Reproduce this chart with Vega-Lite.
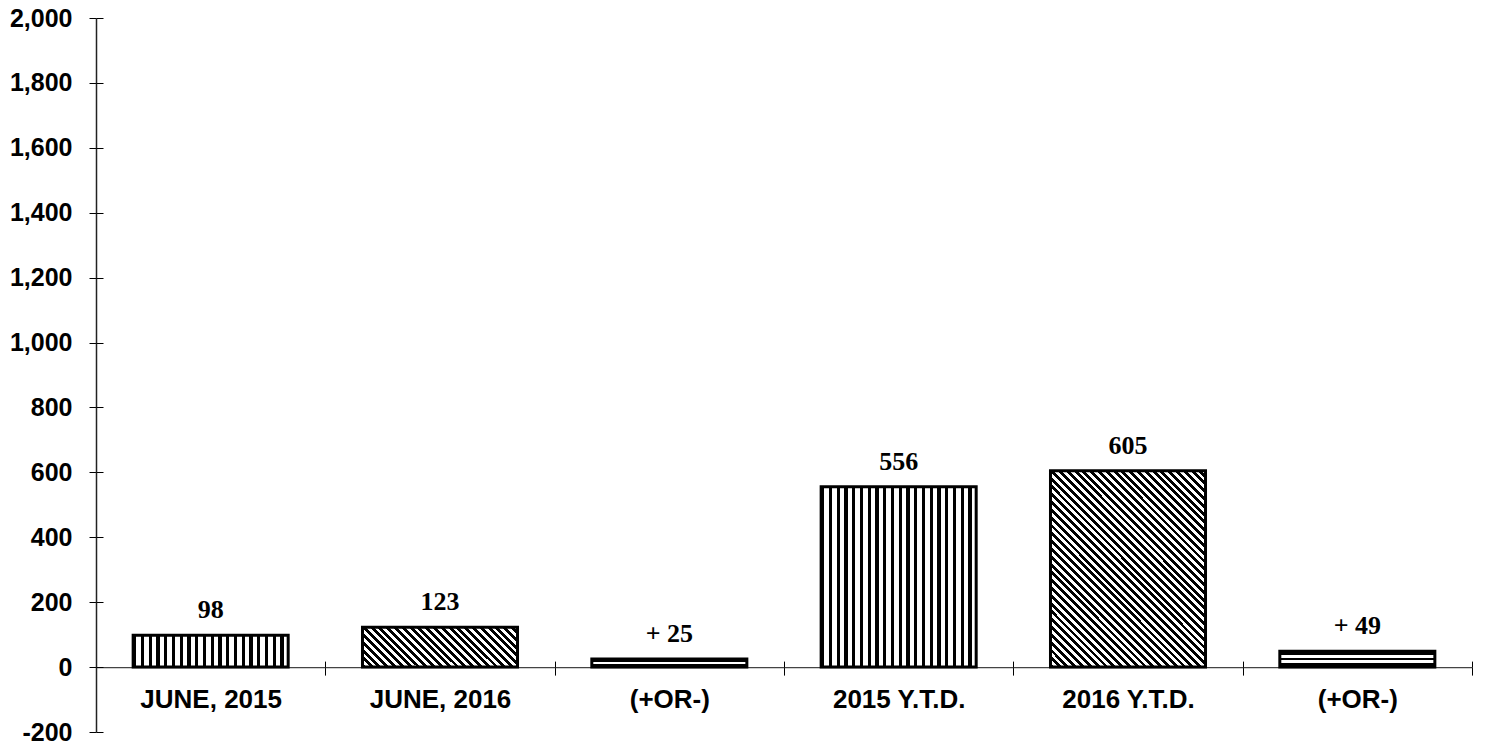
{
  "$schema": "https://vega.github.io/schema/vega-lite/v6.json",
  "autosize": "none",
  "width": 1376,
  "height": 714,
  "padding": {"left": 96, "top": 18, "right": 13, "bottom": 16},
  "background": "white",
  "config": {"view": {"stroke": null}},
  "data": {
    "values": [
      {"key": "JUNE, 2015", "value": 98, "label": "98"},
      {"key": "JUNE, 2016", "value": 123, "label": "123"},
      {"key": "(+OR-)|month", "value": 25, "label": "+ 25"},
      {"key": "2015 Y.T.D.", "value": 556, "label": "556"},
      {"key": "2016 Y.T.D.", "value": 605, "label": "605"},
      {"key": "(+OR-)|ytd", "value": 49, "label": "+ 49"}
    ]
  },
  "resolve": {"axis": {"x": "independent", "y": "independent"}},
  "layer": [
    {
      "mark": {"type": "bar", "width": {"band": 0.676}, "stroke": "black", "strokeWidth": 3},
      "encoding": {
        "x": {
          "field": "key", "type": "nominal", "sort": null,
          "scale": {"paddingInner": 0, "paddingOuter": 0},
          "axis": {
            "orient": "bottom", "offset": -64.9, "title": null, "tickBand": "extent",
            "tickSize": 8, "tickColor": "black", "tickWidth": 1,
            "domainColor": "#444", "domainWidth": 1.2,
            "labelExpr": "split(datum.label, '|')[0]", "labelAngle": 0,
            "labelFont": "Liberation Sans", "labelFontWeight": "bold", "labelFontSize": 26,
            "labelColor": "black", "labelPadding": 11
          }
        },
        "y": {
          "field": "value", "type": "quantitative",
          "scale": {"domain": [-200, 2000], "nice": false},
          "axis": {
            "orient": "left", "title": null, "grid": false,
            "values": [-200, 0, 200, 400, 600, 800, 1000, 1200, 1400, 1600, 1800, 2000],
            "format": ",.0f", "labelExpr": "replace(datum.label, '\u2212', '-')",
            "tickSize": 7, "tickColor": "black", "tickWidth": 1,
            "domainColor": "#222", "domainWidth": 1.5,
            "labelFont": "Liberation Sans", "labelFontWeight": "bold", "labelFontSize": 25,
            "labelColor": "black", "labelPadding": 17
          }
        },
        "fill": {
          "condition": [
            {"test": "datum.key === 'JUNE, 2016'", "value": {"gradient": "linear", "x1": 0, "y1": 1, "x2": 1.1795, "y2": 0.6956, "stops": [
              {"offset": 0, "color": "#000"}, {"offset": 0.02, "color": "#000"}, {"offset": 0.02, "color": "#fff"}, {"offset": 0.04, "color": "#fff"},
              {"offset": 0.04, "color": "#000"}, {"offset": 0.06, "color": "#000"}, {"offset": 0.06, "color": "#fff"}, {"offset": 0.08, "color": "#fff"},
              {"offset": 0.08, "color": "#000"}, {"offset": 0.10, "color": "#000"}, {"offset": 0.10, "color": "#fff"}, {"offset": 0.12, "color": "#fff"},
              {"offset": 0.12, "color": "#000"}, {"offset": 0.14, "color": "#000"}, {"offset": 0.14, "color": "#fff"}, {"offset": 0.16, "color": "#fff"},
              {"offset": 0.16, "color": "#000"}, {"offset": 0.18, "color": "#000"}, {"offset": 0.18, "color": "#fff"}, {"offset": 0.20, "color": "#fff"},
              {"offset": 0.20, "color": "#000"}, {"offset": 0.22, "color": "#000"}, {"offset": 0.22, "color": "#fff"}, {"offset": 0.24, "color": "#fff"},
              {"offset": 0.24, "color": "#000"}, {"offset": 0.26, "color": "#000"}, {"offset": 0.26, "color": "#fff"}, {"offset": 0.28, "color": "#fff"},
              {"offset": 0.28, "color": "#000"}, {"offset": 0.30, "color": "#000"}, {"offset": 0.30, "color": "#fff"}, {"offset": 0.32, "color": "#fff"},
              {"offset": 0.32, "color": "#000"}, {"offset": 0.34, "color": "#000"}, {"offset": 0.34, "color": "#fff"}, {"offset": 0.36, "color": "#fff"},
              {"offset": 0.36, "color": "#000"}, {"offset": 0.38, "color": "#000"}, {"offset": 0.38, "color": "#fff"}, {"offset": 0.40, "color": "#fff"},
              {"offset": 0.40, "color": "#000"}, {"offset": 0.42, "color": "#000"}, {"offset": 0.42, "color": "#fff"}, {"offset": 0.44, "color": "#fff"},
              {"offset": 0.44, "color": "#000"}, {"offset": 0.46, "color": "#000"}, {"offset": 0.46, "color": "#fff"}, {"offset": 0.48, "color": "#fff"},
              {"offset": 0.48, "color": "#000"}, {"offset": 0.50, "color": "#000"}, {"offset": 0.50, "color": "#fff"}, {"offset": 0.52, "color": "#fff"},
              {"offset": 0.52, "color": "#000"}, {"offset": 0.54, "color": "#000"}, {"offset": 0.54, "color": "#fff"}, {"offset": 0.56, "color": "#fff"},
              {"offset": 0.56, "color": "#000"}, {"offset": 0.58, "color": "#000"}, {"offset": 0.58, "color": "#fff"}, {"offset": 0.60, "color": "#fff"},
              {"offset": 0.60, "color": "#000"}, {"offset": 0.62, "color": "#000"}, {"offset": 0.62, "color": "#fff"}, {"offset": 0.64, "color": "#fff"},
              {"offset": 0.64, "color": "#000"}, {"offset": 0.66, "color": "#000"}, {"offset": 0.66, "color": "#fff"}, {"offset": 0.68, "color": "#fff"},
              {"offset": 0.68, "color": "#000"}, {"offset": 0.70, "color": "#000"}, {"offset": 0.70, "color": "#fff"}, {"offset": 0.72, "color": "#fff"},
              {"offset": 0.72, "color": "#000"}, {"offset": 0.74, "color": "#000"}, {"offset": 0.74, "color": "#fff"}, {"offset": 0.76, "color": "#fff"},
              {"offset": 0.76, "color": "#000"}, {"offset": 0.78, "color": "#000"}, {"offset": 0.78, "color": "#fff"}, {"offset": 0.80, "color": "#fff"},
              {"offset": 0.80, "color": "#000"}, {"offset": 0.82, "color": "#000"}, {"offset": 0.82, "color": "#fff"}, {"offset": 0.84, "color": "#fff"},
              {"offset": 0.84, "color": "#000"}, {"offset": 0.86, "color": "#000"}, {"offset": 0.86, "color": "#fff"}, {"offset": 0.88, "color": "#fff"},
              {"offset": 0.88, "color": "#000"}, {"offset": 0.90, "color": "#000"}, {"offset": 0.90, "color": "#fff"}, {"offset": 0.92, "color": "#fff"},
              {"offset": 0.92, "color": "#000"}, {"offset": 0.94, "color": "#000"}, {"offset": 0.94, "color": "#fff"}, {"offset": 0.96, "color": "#fff"},
              {"offset": 0.96, "color": "#000"}, {"offset": 0.98, "color": "#000"}, {"offset": 0.98, "color": "#fff"}, {"offset": 1, "color": "#fff"}
            ]}},
            {"test": "datum.key === '2016 Y.T.D.'", "value": {"gradient": "linear", "x1": 0, "y1": 1, "x2": 0.8713, "y2": -0.1018, "stops": [
              {"offset": 0, "color": "#000"}, {"offset": 0.0111, "color": "#000"}, {"offset": 0.0111, "color": "#fff"}, {"offset": 0.0222, "color": "#fff"},
              {"offset": 0.0222, "color": "#000"}, {"offset": 0.0333, "color": "#000"}, {"offset": 0.0333, "color": "#fff"}, {"offset": 0.0444, "color": "#fff"},
              {"offset": 0.0444, "color": "#000"}, {"offset": 0.0556, "color": "#000"}, {"offset": 0.0556, "color": "#fff"}, {"offset": 0.0667, "color": "#fff"},
              {"offset": 0.0667, "color": "#000"}, {"offset": 0.0778, "color": "#000"}, {"offset": 0.0778, "color": "#fff"}, {"offset": 0.0889, "color": "#fff"},
              {"offset": 0.0889, "color": "#000"}, {"offset": 0.1, "color": "#000"}, {"offset": 0.1, "color": "#fff"}, {"offset": 0.1111, "color": "#fff"},
              {"offset": 0.1111, "color": "#000"}, {"offset": 0.1222, "color": "#000"}, {"offset": 0.1222, "color": "#fff"}, {"offset": 0.1333, "color": "#fff"},
              {"offset": 0.1333, "color": "#000"}, {"offset": 0.1444, "color": "#000"}, {"offset": 0.1444, "color": "#fff"}, {"offset": 0.1556, "color": "#fff"},
              {"offset": 0.1556, "color": "#000"}, {"offset": 0.1667, "color": "#000"}, {"offset": 0.1667, "color": "#fff"}, {"offset": 0.1778, "color": "#fff"},
              {"offset": 0.1778, "color": "#000"}, {"offset": 0.1889, "color": "#000"}, {"offset": 0.1889, "color": "#fff"}, {"offset": 0.2, "color": "#fff"},
              {"offset": 0.2, "color": "#000"}, {"offset": 0.2111, "color": "#000"}, {"offset": 0.2111, "color": "#fff"}, {"offset": 0.2222, "color": "#fff"},
              {"offset": 0.2222, "color": "#000"}, {"offset": 0.2333, "color": "#000"}, {"offset": 0.2333, "color": "#fff"}, {"offset": 0.2444, "color": "#fff"},
              {"offset": 0.2444, "color": "#000"}, {"offset": 0.2556, "color": "#000"}, {"offset": 0.2556, "color": "#fff"}, {"offset": 0.2667, "color": "#fff"},
              {"offset": 0.2667, "color": "#000"}, {"offset": 0.2778, "color": "#000"}, {"offset": 0.2778, "color": "#fff"}, {"offset": 0.2889, "color": "#fff"},
              {"offset": 0.2889, "color": "#000"}, {"offset": 0.3, "color": "#000"}, {"offset": 0.3, "color": "#fff"}, {"offset": 0.3111, "color": "#fff"},
              {"offset": 0.3111, "color": "#000"}, {"offset": 0.3222, "color": "#000"}, {"offset": 0.3222, "color": "#fff"}, {"offset": 0.3333, "color": "#fff"},
              {"offset": 0.3333, "color": "#000"}, {"offset": 0.3444, "color": "#000"}, {"offset": 0.3444, "color": "#fff"}, {"offset": 0.3556, "color": "#fff"},
              {"offset": 0.3556, "color": "#000"}, {"offset": 0.3667, "color": "#000"}, {"offset": 0.3667, "color": "#fff"}, {"offset": 0.3778, "color": "#fff"},
              {"offset": 0.3778, "color": "#000"}, {"offset": 0.3889, "color": "#000"}, {"offset": 0.3889, "color": "#fff"}, {"offset": 0.4, "color": "#fff"},
              {"offset": 0.4, "color": "#000"}, {"offset": 0.4111, "color": "#000"}, {"offset": 0.4111, "color": "#fff"}, {"offset": 0.4222, "color": "#fff"},
              {"offset": 0.4222, "color": "#000"}, {"offset": 0.4333, "color": "#000"}, {"offset": 0.4333, "color": "#fff"}, {"offset": 0.4444, "color": "#fff"},
              {"offset": 0.4444, "color": "#000"}, {"offset": 0.4556, "color": "#000"}, {"offset": 0.4556, "color": "#fff"}, {"offset": 0.4667, "color": "#fff"},
              {"offset": 0.4667, "color": "#000"}, {"offset": 0.4778, "color": "#000"}, {"offset": 0.4778, "color": "#fff"}, {"offset": 0.4889, "color": "#fff"},
              {"offset": 0.4889, "color": "#000"}, {"offset": 0.5, "color": "#000"}, {"offset": 0.5, "color": "#fff"}, {"offset": 0.5111, "color": "#fff"},
              {"offset": 0.5111, "color": "#000"}, {"offset": 0.5222, "color": "#000"}, {"offset": 0.5222, "color": "#fff"}, {"offset": 0.5333, "color": "#fff"},
              {"offset": 0.5333, "color": "#000"}, {"offset": 0.5444, "color": "#000"}, {"offset": 0.5444, "color": "#fff"}, {"offset": 0.5556, "color": "#fff"},
              {"offset": 0.5556, "color": "#000"}, {"offset": 0.5667, "color": "#000"}, {"offset": 0.5667, "color": "#fff"}, {"offset": 0.5778, "color": "#fff"},
              {"offset": 0.5778, "color": "#000"}, {"offset": 0.5889, "color": "#000"}, {"offset": 0.5889, "color": "#fff"}, {"offset": 0.6, "color": "#fff"},
              {"offset": 0.6, "color": "#000"}, {"offset": 0.6111, "color": "#000"}, {"offset": 0.6111, "color": "#fff"}, {"offset": 0.6222, "color": "#fff"},
              {"offset": 0.6222, "color": "#000"}, {"offset": 0.6333, "color": "#000"}, {"offset": 0.6333, "color": "#fff"}, {"offset": 0.6444, "color": "#fff"},
              {"offset": 0.6444, "color": "#000"}, {"offset": 0.6556, "color": "#000"}, {"offset": 0.6556, "color": "#fff"}, {"offset": 0.6667, "color": "#fff"},
              {"offset": 0.6667, "color": "#000"}, {"offset": 0.6778, "color": "#000"}, {"offset": 0.6778, "color": "#fff"}, {"offset": 0.6889, "color": "#fff"},
              {"offset": 0.6889, "color": "#000"}, {"offset": 0.7, "color": "#000"}, {"offset": 0.7, "color": "#fff"}, {"offset": 0.7111, "color": "#fff"},
              {"offset": 0.7111, "color": "#000"}, {"offset": 0.7222, "color": "#000"}, {"offset": 0.7222, "color": "#fff"}, {"offset": 0.7333, "color": "#fff"},
              {"offset": 0.7333, "color": "#000"}, {"offset": 0.7444, "color": "#000"}, {"offset": 0.7444, "color": "#fff"}, {"offset": 0.7556, "color": "#fff"},
              {"offset": 0.7556, "color": "#000"}, {"offset": 0.7667, "color": "#000"}, {"offset": 0.7667, "color": "#fff"}, {"offset": 0.7778, "color": "#fff"},
              {"offset": 0.7778, "color": "#000"}, {"offset": 0.7889, "color": "#000"}, {"offset": 0.7889, "color": "#fff"}, {"offset": 0.8, "color": "#fff"},
              {"offset": 0.8, "color": "#000"}, {"offset": 0.8111, "color": "#000"}, {"offset": 0.8111, "color": "#fff"}, {"offset": 0.8222, "color": "#fff"},
              {"offset": 0.8222, "color": "#000"}, {"offset": 0.8333, "color": "#000"}, {"offset": 0.8333, "color": "#fff"}, {"offset": 0.8444, "color": "#fff"},
              {"offset": 0.8444, "color": "#000"}, {"offset": 0.8556, "color": "#000"}, {"offset": 0.8556, "color": "#fff"}, {"offset": 0.8667, "color": "#fff"},
              {"offset": 0.8667, "color": "#000"}, {"offset": 0.8778, "color": "#000"}, {"offset": 0.8778, "color": "#fff"}, {"offset": 0.8889, "color": "#fff"},
              {"offset": 0.8889, "color": "#000"}, {"offset": 0.9, "color": "#000"}, {"offset": 0.9, "color": "#fff"}, {"offset": 0.9111, "color": "#fff"},
              {"offset": 0.9111, "color": "#000"}, {"offset": 0.9222, "color": "#000"}, {"offset": 0.9222, "color": "#fff"}, {"offset": 0.9333, "color": "#fff"},
              {"offset": 0.9333, "color": "#000"}, {"offset": 0.9444, "color": "#000"}, {"offset": 0.9444, "color": "#fff"}, {"offset": 0.9556, "color": "#fff"},
              {"offset": 0.9556, "color": "#000"}, {"offset": 0.9667, "color": "#000"}, {"offset": 0.9667, "color": "#fff"}, {"offset": 0.9778, "color": "#fff"},
              {"offset": 0.9778, "color": "#000"}, {"offset": 0.9889, "color": "#000"}, {"offset": 0.9889, "color": "#fff"}, {"offset": 1, "color": "#fff"}
            ]}},
            {"test": "datum.key === '(+OR-)|month'", "value": {"gradient": "linear", "x1": 0, "y1": 0, "x2": 0, "y2": 1, "stops": [
              {"offset": 0, "color": "#000"}, {"offset": 0.33, "color": "#000"}, {"offset": 0.33, "color": "#fff"},
              {"offset": 0.67, "color": "#fff"}, {"offset": 0.67, "color": "#000"}, {"offset": 1, "color": "#000"}
            ]}},
            {"test": "datum.key === '(+OR-)|ytd'", "value": {"gradient": "linear", "x1": 0, "y1": 0, "x2": 0, "y2": 1, "stops": [
              {"offset": 0, "color": "#000"}, {"offset": 0.27, "color": "#000"}, {"offset": 0.27, "color": "#fff"},
              {"offset": 0.43, "color": "#fff"}, {"offset": 0.43, "color": "#000"}, {"offset": 0.57, "color": "#000"},
              {"offset": 0.57, "color": "#fff"}, {"offset": 0.73, "color": "#fff"}, {"offset": 0.73, "color": "#000"}, {"offset": 1, "color": "#000"}
            ]}}
          ],
          "value": {"gradient": "linear", "x1": 0, "y1": 0, "x2": 1, "y2": 0, "stops": [
            {"offset": 0, "color": "#000"}, {"offset": 0.02, "color": "#000"}, {"offset": 0.02, "color": "#fff"}, {"offset": 0.05, "color": "#fff"},
            {"offset": 0.05, "color": "#000"}, {"offset": 0.07, "color": "#000"}, {"offset": 0.07, "color": "#fff"}, {"offset": 0.10, "color": "#fff"},
            {"offset": 0.10, "color": "#000"}, {"offset": 0.12, "color": "#000"}, {"offset": 0.12, "color": "#fff"}, {"offset": 0.15, "color": "#fff"},
            {"offset": 0.15, "color": "#000"}, {"offset": 0.17, "color": "#000"}, {"offset": 0.17, "color": "#fff"}, {"offset": 0.20, "color": "#fff"},
            {"offset": 0.20, "color": "#000"}, {"offset": 0.22, "color": "#000"}, {"offset": 0.22, "color": "#fff"}, {"offset": 0.25, "color": "#fff"},
            {"offset": 0.25, "color": "#000"}, {"offset": 0.27, "color": "#000"}, {"offset": 0.27, "color": "#fff"}, {"offset": 0.30, "color": "#fff"},
            {"offset": 0.30, "color": "#000"}, {"offset": 0.32, "color": "#000"}, {"offset": 0.32, "color": "#fff"}, {"offset": 0.35, "color": "#fff"},
            {"offset": 0.35, "color": "#000"}, {"offset": 0.37, "color": "#000"}, {"offset": 0.37, "color": "#fff"}, {"offset": 0.40, "color": "#fff"},
            {"offset": 0.40, "color": "#000"}, {"offset": 0.42, "color": "#000"}, {"offset": 0.42, "color": "#fff"}, {"offset": 0.45, "color": "#fff"},
            {"offset": 0.45, "color": "#000"}, {"offset": 0.47, "color": "#000"}, {"offset": 0.47, "color": "#fff"}, {"offset": 0.50, "color": "#fff"},
            {"offset": 0.50, "color": "#000"}, {"offset": 0.52, "color": "#000"}, {"offset": 0.52, "color": "#fff"}, {"offset": 0.55, "color": "#fff"},
            {"offset": 0.55, "color": "#000"}, {"offset": 0.57, "color": "#000"}, {"offset": 0.57, "color": "#fff"}, {"offset": 0.60, "color": "#fff"},
            {"offset": 0.60, "color": "#000"}, {"offset": 0.62, "color": "#000"}, {"offset": 0.62, "color": "#fff"}, {"offset": 0.65, "color": "#fff"},
            {"offset": 0.65, "color": "#000"}, {"offset": 0.67, "color": "#000"}, {"offset": 0.67, "color": "#fff"}, {"offset": 0.70, "color": "#fff"},
            {"offset": 0.70, "color": "#000"}, {"offset": 0.72, "color": "#000"}, {"offset": 0.72, "color": "#fff"}, {"offset": 0.75, "color": "#fff"},
            {"offset": 0.75, "color": "#000"}, {"offset": 0.77, "color": "#000"}, {"offset": 0.77, "color": "#fff"}, {"offset": 0.80, "color": "#fff"},
            {"offset": 0.80, "color": "#000"}, {"offset": 0.82, "color": "#000"}, {"offset": 0.82, "color": "#fff"}, {"offset": 0.85, "color": "#fff"},
            {"offset": 0.85, "color": "#000"}, {"offset": 0.87, "color": "#000"}, {"offset": 0.87, "color": "#fff"}, {"offset": 0.90, "color": "#fff"},
            {"offset": 0.90, "color": "#000"}, {"offset": 0.92, "color": "#000"}, {"offset": 0.92, "color": "#fff"}, {"offset": 0.95, "color": "#fff"},
            {"offset": 0.95, "color": "#000"}, {"offset": 0.97, "color": "#000"}, {"offset": 0.97, "color": "#fff"}, {"offset": 1, "color": "#fff"}
          ]}
        }
      }
    },
    {
      "mark": {"type": "text", "font": "Liberation Serif", "fontWeight": "bold", "fontSize": 26, "baseline": "alphabetic", "align": "center", "dy": -17, "color": "black"},
      "encoding": {
        "x": {
          "field": "key", "type": "nominal", "sort": null,
          "axis": {
            "orient": "top", "offset": -649.1, "title": null, "tickBand": "extent",
            "labels": false, "domain": false, "tickSize": 6, "tickColor": "black", "tickWidth": 1
          }
        },
        "y": {
          "field": "value", "type": "quantitative",
          "axis": {
            "orient": "right", "offset": -1376, "title": null, "grid": false,
            "values": [-200, 0, 200, 400, 600, 800, 1000, 1200, 1400, 1600, 1800, 2000],
            "labels": false, "domain": false, "tickSize": 7, "tickColor": "black", "tickWidth": 1
          }
        },
        "text": {"field": "label"}
      }
    }
  ]
}
